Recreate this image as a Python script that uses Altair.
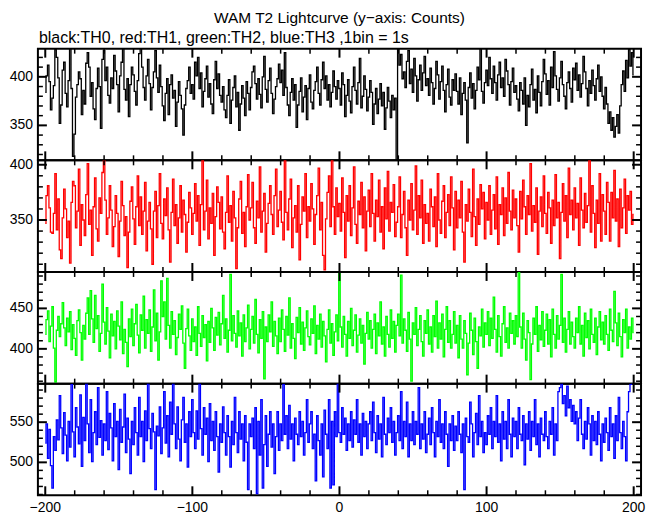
import math
import altair as alt
import pandas as pd

FONT = "Liberation Sans"

# ---- data (counts per 1 s bin, x = -200 ... 200) ----
x_start = -200
th0 = [
    384, 401, 412, 395, 366, 378, 391, 428, 420, 399, 352, 371, 407, 415, 383, 369, 396, 430, 388, 318,
    341, 379, 392, 405, 398, 361, 386, 372, 414, 425, 410, 380, 394, 367, 356, 388, 409, 390, 347, 418,
    427, 396, 410, 381, 373, 399, 388, 422, 406, 392, 364, 401, 415, 431, 387, 376, 398, 359, 392, 410,
    402, 385, 371, 396, 424, 433, 410, 389, 376, 401, 418, 393, 366, 389, 405, 427, 399, 384, 412, 390,
    370, 355, 383, 398, 361, 392, 402, 378, 386, 349, 374, 395, 381, 367, 340, 371, 388, 396, 410, 383,
    392, 377, 415, 401, 420, 388, 404, 369, 385, 398, 411, 379, 393, 372, 362, 397, 416, 388, 403, 381,
    374, 390, 366, 358, 381, 397, 352, 376, 389, 401, 369, 384, 345, 372, 391, 378, 360, 395, 383, 366,
    389, 405, 411, 393, 377, 398, 382, 368, 400, 421, 387, 374, 396, 409, 383, 362, 377, 390, 398, 413,
    394, 407, 381, 425, 389, 371, 360, 384, 398, 376, 392, 348, 371, 385, 399, 364, 379, 391, 356, 388,
    402, 374, 367, 386, 395, 410, 383, 371, 397, 415, 388, 401, 376, 392, 369, 384, 406, 390, 377, 396,
    388, 371, 404, 392, 359, 381, 397, 375, 363, 390, 410, 386, 372, 394, 419, 368, 380, 401, 387, 365,
    379, 396, 384, 351, 372, 388, 362, 377, 393, 370, 384, 346, 368, 389, 375, 358, 381, 366, 378, 314,
    431, 412, 423, 398, 405, 389, 416, 427, 393, 408, 384, 419, 401, 375, 397, 412, 386, 404, 421, 391,
    398, 381, 409, 394, 372, 388, 416, 402, 377, 395, 411, 386, 364, 392, 408, 379, 371, 397, 386, 403,
    385, 372, 399, 361, 383, 394, 376, 332, 389, 404, 378, 393, 367, 386, 410, 397, 429, 385, 373, 394,
    407, 391, 420, 398, 383, 411, 394, 376, 402, 415, 389, 399, 380, 418, 406, 392, 371, 395, 409, 384,
    391, 377, 365, 394, 386, 372, 399, 350, 381, 369, 392, 408, 376, 387, 363, 401, 384, 370, 395, 418,
    403, 382, 396, 371, 410, 389, 426, 401, 387, 375, 399, 416, 392, 380, 367, 394, 405, 388, 374, 409,
    397, 414, 386, 402, 379, 393, 421, 405, 388, 370, 396, 383, 407, 391, 376, 398, 412, 385, 400, 380,
    367, 389, 372, 352, 364, 345, 358, 338, 349, 361, 342, 370, 392, 406, 385, 417, 399, 428, 411, 425,
    402,
]
th1 = [
    347, 372, 381, 361, 339, 338, 356, 392, 341, 369, 323, 315, 352, 378, 360, 334, 349, 311, 366, 385,
    381, 343, 358, 396, 327, 364, 350, 336, 373, 401, 346, 359, 318, 362, 388, 342, 331, 370, 356, 393,
    404, 368, 337, 352, 381, 359, 326, 344, 372, 356, 317, 349, 385, 363, 336, 353, 307, 339, 367, 380,
    351, 328, 362, 390, 345, 371, 337, 358, 384, 322, 349, 366, 342, 310, 358, 376, 334, 363, 392, 347,
    333, 369, 354, 379, 341, 312, 357, 387, 345, 364, 329, 352, 381, 339, 368, 355, 321, 348, 375, 361,
    337, 356, 383, 349, 372, 327, 364, 404, 341, 358, 386, 333, 361, 347, 374, 318, 353, 380, 366, 342,
    371, 339, 324, 357, 390, 348, 363, 331, 376, 352, 306, 343, 369, 385, 338, 357, 326, 362, 391, 350,
    361, 384, 343, 329, 367, 352, 398, 339, 358, 374, 321, 347, 365, 381, 355, 337, 372, 396, 344, 359,
    376, 348, 332, 404, 357, 341, 369, 387, 325, 352, 363, 339, 381, 314, 346, 371, 358, 392, 334, 362,
    349, 383, 360, 328, 355, 372, 397, 341, 366, 318, 305, 351, 375, 390, 344, 404, 362, 337, 379, 353,
    365, 340, 388, 357, 316, 372, 349, 381, 336, 361, 398, 346, 329, 367, 355, 384, 343, 371, 322, 358,
    377, 344, 392, 356, 331, 368, 353, 386, 339, 362, 324, 379, 351, 394, 340, 366, 357, 382, 335, 348,
    362, 389, 334, 355, 376, 343, 318, 368, 350, 383, 341, 359, 399, 337, 372, 352, 386, 329, 364, 347,
    356, 331, 378, 362, 344, 371, 326, 392, 350, 338, 367, 381, 334, 357, 373, 345, 389, 361, 323, 376,
    343, 368, 352, 385, 339, 312, 364, 349, 378, 357, 335, 396, 353, 327, 369, 346, 382, 360, 375, 333,
    366, 350, 381, 337, 359, 373, 342, 389, 328, 364, 355, 379, 336, 370, 347, 393, 358, 341, 377, 352,
    369, 345, 321, 376, 351, 386, 362, 337, 372, 355, 401, 340, 363, 348, 379, 319, 358, 371, 344, 390,
    356, 338, 375, 361, 329, 368, 345, 391, 352, 366, 315, 357, 383, 349, 372, 334, 397, 355, 368, 341,
    379, 352, 365, 327, 388, 359, 343, 374, 348, 363, 404, 339, 381, 356, 325, 368, 347, 392, 331, 373,
    358, 337, 384, 366, 331, 375, 352, 395, 349, 369, 326, 378, 343, 361, 387, 338, 372, 359, 376, 346,
    355,
]
th2 = [
    418, 436, 447, 409, 428, 452, 401, 359, 423, 440, 415, 431, 457, 426, 404, 438, 421, 446, 399, 430,
    413, 392, 435, 448, 420, 386, 429, 412, 444, 463, 418, 472, 437, 408, 466, 425, 441, 397, 419, 480,
    433, 406, 451, 422, 389, 443, 416, 434, 400, 447, 428, 411, 458, 394, 424, 408, 378, 437, 415, 449,
    404, 431, 455, 417, 395, 442, 423, 465, 401, 436, 419, 448, 397, 427, 473, 410, 444, 386, 421, 484,
    440, 458, 412, 487, 429, 401, 446, 418, 435, 393, 414, 443, 424, 453, 407, 376, 425, 449, 416, 398,
    437, 409, 427, 392, 452, 419, 403, 441, 414, 430, 385, 434, 408, 450, 426, 398, 439, 417, 445, 405,
    431, 466, 413, 437, 396, 423, 492, 410, 441, 419, 402, 447, 416, 432, 391, 442, 409, 426, 454, 400,
    424, 440, 407, 461, 418, 395, 436, 413, 446, 363, 427, 409, 442, 421, 458, 403, 434, 416, 394, 438,
    409, 448, 424, 397, 440, 417, 463, 401, 431, 413, 388, 439, 420, 451, 406, 433, 398, 426, 447, 415,
    405, 437, 419, 453, 394, 429, 412, 443, 402, 434, 416, 384, 424, 448, 407, 431, 392, 421, 442, 410,
    493, 427, 402, 440, 418, 391, 434, 413, 450, 404, 423, 442, 396, 417, 437, 407, 429, 381, 419, 445,
    412, 435, 401, 424, 443, 394, 432, 416, 458, 406, 427, 391, 440, 418, 402, 448, 413, 434, 396, 429,
    443, 416, 491, 407, 437, 423, 397, 445, 412, 360, 432, 418, 451, 404, 424, 441, 409, 391, 435, 419,
    448, 406, 427, 396, 441, 415, 459, 401, 432, 412, 443, 390, 424, 452, 408, 435, 401, 418, 446, 407,
    429, 389, 441, 412, 401, 435, 419, 368, 407, 444, 423, 393, 438, 409, 376, 427, 416, 449, 402, 432,
    418, 446, 404, 438, 413, 464, 424, 396, 441, 415, 391, 431, 452, 408, 426, 401, 444, 419, 435, 406,
    441, 415, 495, 427, 401, 444, 412, 386, 435, 420, 362, 406, 438, 418, 452, 397, 429, 411, 446, 403,
    423, 443, 406, 436, 390, 449, 418, 401, 441, 412, 429, 492, 408, 438, 396, 424, 446, 406, 433, 415,
    401, 438, 420, 452, 406, 429, 391, 444, 414, 435, 400, 449, 418, 408, 438, 393, 427, 446, 411, 433,
    406, 441, 418, 398, 449, 423, 409, 471, 432, 404, 444, 415, 390, 436, 420, 449, 401, 427, 412, 438,
    420,
]
th3 = [
    524, 548, 505, 541, 496, 468, 532, 515, 553, 528, 583, 543, 511, 562, 534, 502, 551, 519, 597, 538,
    507, 568, 544, 523, 584, 495, 556, 527, 600, 548, 512, 578, 501, 537, 563, 522, 593, 531, 552, 509,
    548, 527, 588, 516, 561, 543, 502, 573, 532, 551, 491, 566, 525, 544, 585, 512, 555, 529, 486, 551,
    522, 568, 537, 509, 581, 532, 551, 501, 564, 527, 600, 542, 517, 561, 538, 466, 545, 533, 569, 511,
    543, 588, 524, 558, 507, 575, 535, 600, 548, 517, 569, 529, 502, 553, 581, 525, 548, 494, 563, 532,
    578, 537, 517, 564, 529, 600, 542, 509, 568, 535, 555, 501, 573, 527, 551, 515, 563, 532, 488, 548,
    525, 569, 537, 509, 558, 532, 494, 551, 522, 581, 537, 512, 563, 529, 548, 502, 558, 525, 466, 548,
    532, 555, 517, 568, 461, 551, 509, 578, 468, 522, 558, 495, 535, 563, 519, 548, 486, 532, 563, 515,
    548, 527, 597, 535, 558, 517, 571, 529, 548, 502, 555, 535, 522, 563, 532, 551, 509, 537, 578, 525,
    548, 563, 517, 535, 477, 558, 527, 509, 548, 482, 565, 535, 517, 578, 468, 551, 472, 563, 532, 600,
    537, 525, 568, 535, 555, 515, 548, 527, 563, 519, 553, 535, 578, 525, 548, 509, 561, 532, 551, 517,
    548, 563, 527, 575, 537, 512, 558, 529, 548, 507, 581, 535, 522, 555, 537, 568, 525, 551, 509, 537,
    558, 527, 588, 517, 551, 532, 575, 507, 548, 527, 563, 522, 551, 535, 593, 517, 548, 529, 563, 512,
    535, 555, 522, 568, 537, 507, 551, 532, 578, 525, 548, 517, 563, 535, 495, 548, 527, 558, 515, 545,
    527, 563, 535, 512, 548, 466, 555, 532, 525, 575, 548, 507, 537, 561, 522, 583, 532, 551, 512, 537,
    522, 558, 535, 568, 517, 551, 532, 583, 525, 548, 502, 563, 529, 551, 517, 578, 535, 507, 555, 532,
    551, 517, 568, 535, 527, 558, 497, 548, 529, 563, 515, 551, 532, 578, 522, 548, 507, 555, 535, 527,
    563, 532, 517, 551, 535, 568, 509, 548, 527, 588, 593, 600, 573, 583, 558, 595, 568, 578, 551, 571,
    548, 563, 527, 555, 578, 535, 517, 551, 529, 568, 548, 509, 558, 527, 551, 522, 563, 535, 502, 548,
    525, 555, 537, 515, 568, 532, 548, 505, 558, 527, 581, 537, 517, 551, 532, 502, 563, 588, 597, 600,
    600,
]

series = [th0, th1, th2, th3]
colors = ["#000000", "#ff0000", "#00ff00", "#0000ff"]
x_domain = [-205, 205]
y_domains = [[314, 429], [303, 404], [357, 495], [459, 598]]
y_label_values = [[350, 400], [350, 400], [400, 450], [500, 550]]
x_label_values = [-200, -100, 0, 100, 200]
x_minor_step, x_major_step = 20, 100
y_minor_step, y_major_step = 10, 50
title_text = "WAM T2 Lightcurve (y\u2212axis: Counts)"
subtitle_text = "black:TH0, red:TH1, green:TH2, blue:TH3 ,1bin = 1s"

W, H = 605, 112
MAJ, MIN = 9, 5


def tick_values(lo, hi, step):
    start = int(math.ceil(lo / step) * step)
    return list(range(start, int(hi) + 1, step))


def fmt(v):
    return ("\u2212" + str(-v)) if v < 0 else str(v)


def panel(i, values, bottom=False, top=False):
    df = pd.DataFrame({"x": list(range(x_start, x_start + len(values))), "y": values})
    xs = alt.Scale(domain=x_domain, nice=False, zero=False)
    ys = alt.Scale(domain=y_domains[i], nice=False, zero=False)

    line = alt.Chart(df).mark_line(interpolate="step", color=colors[i], strokeWidth=1.3, clip=True).encode(
        x=alt.X("x:Q", scale=xs, axis=None),
        y=alt.Y("y:Q", scale=ys, axis=None),
    )

    lo, hi = y_domains[i]
    yv = tick_values(lo, hi, y_minor_step)
    y_major = pd.DataFrame({"y": [v for v in yv if v % y_major_step == 0]})
    y_minor = pd.DataFrame({"y": [v for v in yv if v % y_major_step != 0]})
    xv = tick_values(x_domain[0], x_domain[1], x_minor_step)
    x_major = pd.DataFrame({"x": [v for v in xv if v % x_major_step == 0]})
    x_minor = pd.DataFrame({"x": [v for v in xv if v % x_major_step != 0]})

    layers = [line]
    for d, ln, sw in [(y_major, MAJ, 2), (y_minor, MIN, 1.5)]:
        layers.append(alt.Chart(d).mark_rule(color="black", strokeWidth=sw).encode(
            y=alt.Y("y:Q", scale=ys, axis=None), x=alt.value(0), x2=alt.value(ln)))
        layers.append(alt.Chart(d).mark_rule(color="black", strokeWidth=sw).encode(
            y=alt.Y("y:Q", scale=ys, axis=None), x=alt.value(W - ln), x2=alt.value(W)))
    for d, ln, sw in [(x_major, MAJ, 2), (x_minor, MIN, 1.5)]:
        layers.append(alt.Chart(d).mark_rule(color="black", strokeWidth=sw).encode(
            x=alt.X("x:Q", scale=xs, axis=None), y=alt.value(0), y2=alt.value(ln)))
        layers.append(alt.Chart(d).mark_rule(color="black", strokeWidth=sw).encode(
            x=alt.X("x:Q", scale=xs, axis=None), y=alt.value(H - ln), y2=alt.value(H)))

    # y tick labels
    ylab = pd.DataFrame({"y": y_label_values[i], "t": [fmt(v) for v in y_label_values[i]]})
    layers.append(alt.Chart(ylab).mark_text(
        font=FONT, fontSize=14, align="right", baseline="middle", color="black").encode(
        y=alt.Y("y:Q", scale=ys, axis=None), x=alt.value(-5), text="t:N"))

    if bottom:
        xlab = pd.DataFrame({"x": x_label_values, "t": [fmt(v) for v in x_label_values]})
        layers.append(alt.Chart(xlab).mark_text(
            font=FONT, fontSize=14, align="center", baseline="top", color="black").encode(
            x=alt.X("x:Q", scale=xs, axis=None), y=alt.value(H + 6), text="t:N"))

    if top:
        layers.append(alt.Chart(pd.DataFrame({"t": [title_text]})).mark_text(
            font=FONT, fontSize=15.5, align="center", baseline="top", color="black").encode(
            text="t:N", x=alt.value(W / 2), y=alt.value(-38)))
        layers.append(alt.Chart(pd.DataFrame({"t": [subtitle_text]})).mark_text(
            font=FONT, fontSize=16, align="left", baseline="top", color="black").encode(
            text="t:N", x=alt.value(1), y=alt.value(-19)))

    return alt.layer(*layers).properties(width=W, height=H)


panels = [panel(i, s, bottom=(i == 3), top=(i == 0)) for i, s in enumerate(series)]

chart = alt.vconcat(*panels, spacing=0, bounds="flush").properties(
    padding={"left": 0, "top": 1, "right": 5, "bottom": 5}
).configure_view(stroke="black", strokeWidth=2).configure_concat(spacing=0)

chart.save("out.html", embed_options={"renderer": "svg", "actions": False})
